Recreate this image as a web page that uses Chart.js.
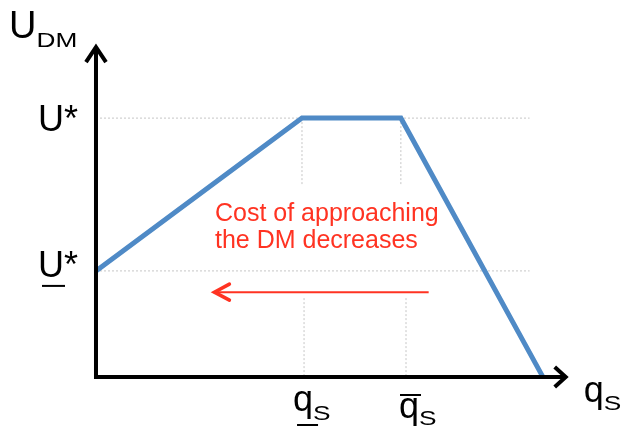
<!DOCTYPE html>
<html>
<head>
<meta charset="utf-8">
<script src="https://cdn.jsdelivr.net/npm/chart.js@4.4.0/dist/chart.umd.min.js"></script>
<style>
  html, body { margin: 0; padding: 0; background: #fff; }
  #wrap { width: 626px; height: 432px; position: relative; }
</style>
</head>
<body>
<div id="wrap"><canvas id="myChart"></canvas></div>
<script>
// U_DM against q_S (x in q units, y in U* units)
const qPoints = [0, 2.0, 2.96, 4.34];
const uPoints = [0.41, 1, 1, 0];

// guide levels and tick positions
const uLevels = [1, 0.41];
const uLabels = ['U*', 'U*'];
const uBars = ['none', 'under'];
const qTicks = [2.02, 3.01];
const qLabels = ['q', 'q'];
const qBars = ['under', 'over'];

// axes extents
const xAxisEnd = 4.58;
const yAxisEnd = 1.282;
const guideEnd = 4.21;

// red arrow + note
const arrowFrom = 3.23;
const arrowTo = 1.14;
const arrowLevel = 0.328;
const noteLines = ['Cost of approaching', 'the DM decreases'];
const noteX = 1.155;
const noteY = 0.602;

const FONT = '"Liberation Sans", Arial, sans-serif';
const ctx = document.getElementById('myChart');

function seg(x1, y1, x2, y2) {
    return [{ x: x1, y: y1 }, { x: x2, y: y2 }];
}

let datasets = [];
datasets.push({
    data: qPoints.map((q, i) => ({ x: q, y: uPoints[i] })),
    borderColor: '#4f8ac6',
    borderWidth: 5,
    order: 0
});
for (let i = 0; i < uLevels.length; i++) {
    datasets.push({ data: seg(0, uLevels[i], guideEnd, uLevels[i]), borderColor: '#c6c6c6', borderWidth: 1, borderDash: [2, 2], order: 5 });
}
// upper drops from the plateau corners, lower ones from the ticks
datasets.push({ data: seg(qPoints[1], 1, qPoints[1], 0.74), borderColor: '#c6c6c6', borderWidth: 1, borderDash: [2, 2], order: 5 });
datasets.push({ data: seg(qPoints[2], 1, qPoints[2], 0.74), borderColor: '#c6c6c6', borderWidth: 1, borderDash: [2, 2], order: 5 });
for (let i = 0; i < qTicks.length; i++) {
    datasets.push({ data: seg(qTicks[i], 0.305, qTicks[i], 0), borderColor: '#c6c6c6', borderWidth: 1, borderDash: [2, 2], order: 5 });
}
datasets.push({ data: seg(arrowFrom, arrowLevel, arrowTo, arrowLevel), borderColor: '#ff3322', borderWidth: 2, order: 1 });

function subText(c, x, y, base, sub, size, subSize, drop, stretch) {
    c.font = size + 'px ' + FONT;
    c.fillText(base, x, y);
    let w = c.measureText(base).width;
    c.save();
    c.translate(x + w, y + drop);
    c.scale(stretch, 1);
    c.font = subSize + 'px ' + FONT;
    c.fillText(sub, 0, 0);
    c.restore();
    return w;
}

const decor = {
    id: 'decor',
    afterDatasetsDraw(chart) {
        const c = chart.ctx;
        const xs = chart.scales.x, ys = chart.scales.y;
        const ox = xs.getPixelForValue(0), oy = ys.getPixelForValue(0);
        const xe = xs.getPixelForValue(xAxisEnd), ye = ys.getPixelForValue(yAxisEnd);
        c.save();
        // axes
        c.strokeStyle = '#000';
        c.lineWidth = 4;
        c.lineJoin = 'miter';
        c.beginPath();
        c.moveTo(ox, ye + 2);
        c.lineTo(ox, oy);
        c.lineTo(xe - 2, oy);
        c.stroke();
        c.beginPath();
        c.moveTo(ox - 10, ye + 17);
        c.lineTo(ox, ye + 2);
        c.lineTo(ox + 10, ye + 17);
        c.stroke();
        c.beginPath();
        c.moveTo(xe - 13, oy - 10);
        c.lineTo(xe - 2, oy);
        c.lineTo(xe - 13, oy + 10);
        c.stroke();

        // red arrow head
        const ax = xs.getPixelForValue(arrowTo), ay = ys.getPixelForValue(arrowLevel);
        c.strokeStyle = '#ff3322';
        c.lineWidth = 3.5;
        c.lineCap = 'round';
        c.beginPath();
        c.moveTo(ax + 16, ay - 8);
        c.lineTo(ax + 1, ay);
        c.lineTo(ax + 16, ay + 8);
        c.stroke();

        // note
        c.fillStyle = '#ff3322';
        c.font = '25px ' + FONT;
        c.textAlign = 'left';
        c.textBaseline = 'alphabetic';
        const nx = xs.getPixelForValue(noteX), ny = ys.getPixelForValue(noteY);
        for (let i = 0; i < noteLines.length; i++) {
            c.fillText(noteLines[i], nx, ny + i * 27);
        }

        c.fillStyle = '#000';
        // y title
        subText(c, 9, 38, 'U', 'DM', 38, 21, 9, 1.25);

        // y labels
        for (let i = 0; i < uLevels.length; i++) {
            const py = ys.getPixelForValue(uLevels[i]);
            const by = uBars[i] == 'under' ? py + 6 : py + 13;
            c.font = '36px ' + FONT;
            c.fillText(uLabels[i], 38, by);
            if (uBars[i] == 'under') {
                c.fillRect(42, by + 8, 23, 2);
            }
        }

        // x labels
        for (let i = 0; i < qTicks.length; i++) {
            const px = xs.getPixelForValue(qTicks[i]);
            if (qBars[i] == 'under') {
                subText(c, px - 11, 411, qLabels[i], 'S', 36, 21, 9, 1.25);
                c.fillRect(px - 7, 424, 21, 2);
            } else {
                subText(c, px - 7, 418, qLabels[i], 'S', 36, 21, 7, 1.25);
                c.fillRect(px - 6, 394, 21, 2);
            }
        }
        // x title
        subText(c, xe + 16, 402, 'q', 'S', 36, 21, 8, 1.25);
        c.restore();
    }
};

var myChart = new Chart(ctx, {
    type: 'line',
    data: { datasets: datasets },
    options: {
        responsive: true,
        maintainAspectRatio: false,
        animation: false,
        events: [],
        layout: { padding: 0 },
        elements: { point: { radius: 0 }, line: { tension: 0, fill: false } },
        plugins: { legend: { display: false }, tooltip: { enabled: false } },
        scales: {
            x: { type: 'linear', display: false, min: -0.932, max: 5.146 },
            y: { type: 'linear', display: false, min: -0.212, max: 1.456 }
        }
    },
    plugins: [decor]
});
</script>
</body>
</html>
